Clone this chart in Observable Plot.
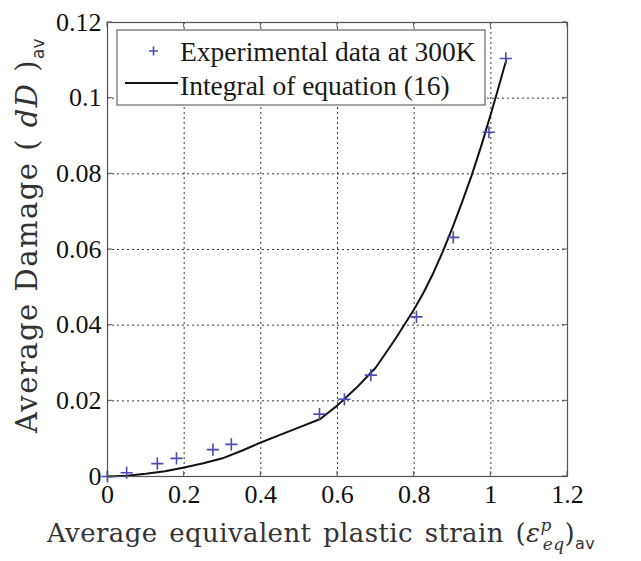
<!DOCTYPE html>
<html>
<head>
<meta charset="utf-8">
<script src="https://cdn.jsdelivr.net/npm/d3@7"></script>
<script src="https://cdn.jsdelivr.net/npm/@observablehq/plot@0.6"></script>
<style>
  html, body { margin: 0; padding: 0; background: #fff; }
  #chart svg { display: block; }
</style>
</head>
<body>
<div id="chart"></div>
<script>
// Experimental damage measurements at 300K
const expStrain = [0, 0.05, 0.13, 0.18, 0.275, 0.323, 0.553, 0.618, 0.687, 0.806, 0.902, 0.995, 1.039];
const expDamage = [0, 0.001, 0.0034, 0.0048, 0.0071, 0.0085, 0.0165, 0.0204, 0.0268, 0.0422, 0.0632, 0.0910, 0.1105];

// Integrated damage evolution law, equation (16)
const fitStrain = [0, 0.05, 0.1, 0.15, 0.2, 0.25, 0.3, 0.35, 0.4, 0.45, 0.5, 0.555, 0.6, 0.65, 0.7, 0.75, 0.8, 0.825, 0.85, 0.875, 0.9, 0.925, 0.95, 0.975, 1.0, 1.02, 1.04];
const fitDamage = [0, 0.0002, 0.0007, 0.0014, 0.0024, 0.0035, 0.0048, 0.0068, 0.009, 0.011, 0.013, 0.0152, 0.0188, 0.0235, 0.0288, 0.0362, 0.0442, 0.0487, 0.0538, 0.0595, 0.0658, 0.0725, 0.0796, 0.0874, 0.0958, 0.1028, 0.1100];

const xTicks = [0, 0.2, 0.4, 0.6, 0.8, 1, 1.2];
const yTicks = [0, 0.02, 0.04, 0.06, 0.08, 0.1, 0.12];

const legendLabels = ["Experimental data at 300K", "Integral of equation (16)"];

const experiments = expStrain.map((x, i) => ({x, y: expDamage[i]}));
const fit = fitStrain.map((x, i) => ({x, y: fitDamage[i]}));

const markColor = "#4b4bb4";
const gridStyle = {stroke: "#222", strokeOpacity: 0.9, strokeDasharray: "2,3", strokeWidth: 1};

const plot = Plot.plot({
  width: 641,
  height: 561,
  marginLeft: 107,
  marginRight: 74,
  marginTop: 22,
  marginBottom: 85,
  style: {fontFamily: "'Liberation Serif', serif", fontSize: "26px", color: "#111", background: "#fff"},
  x: {domain: [0, 1.2]},
  y: {domain: [0, 0.12]},
  marks: [
    Plot.gridX(xTicks, gridStyle),
    Plot.gridY(yTicks, gridStyle),
    Plot.axisX(xTicks, {tickSize: 0, tickPadding: 8, tickFormat: d => String(d), label: null}),
    Plot.axisY(yTicks, {tickSize: 0, tickPadding: 6, tickFormat: d => String(d), label: null}),
    Plot.line(fit, {x: "x", y: "y", stroke: "#111", strokeWidth: 2}),
    Plot.dot(experiments, {x: "x", y: "y", symbol: "plus", r: 4, stroke: markColor, strokeWidth: 1.6}),
    Plot.frame({stroke: "#555", strokeWidth: 1.2})
  ]
});

document.getElementById("chart").appendChild(plot);

const svg = d3.select(plot);
const sx = plot.scale("x"), sy = plot.scale("y");
const [x0, x1] = sx.range, [y0, y1] = sy.range;

// Inward tick marks on all four sides
const tickLen = 5;
const ticks = svg.append("g").attr("stroke", "#555").attr("stroke-width", 1);
for (const t of xTicks) {
  const px = sx.apply(t);
  ticks.append("line").attr("x1", px).attr("x2", px).attr("y1", y0).attr("y2", y0 - tickLen);
  ticks.append("line").attr("x1", px).attr("x2", px).attr("y1", y1).attr("y2", y1 + tickLen);
}
for (const t of yTicks) {
  const py = sy.apply(t);
  ticks.append("line").attr("y1", py).attr("y2", py).attr("x1", x0).attr("x2", x0 + tickLen);
  ticks.append("line").attr("y1", py).attr("y2", py).attr("x1", x1).attr("x2", x1 - tickLen);
}

// Legend box
const lg = svg.append("g").attr("font-family", "'Liberation Serif', serif").attr("font-size", 27.5)
  .attr("fill", "#1a1a1a").attr("text-anchor", "start");
lg.append("rect").attr("x", 117).attr("y", 30).attr("width", 368).attr("height", 75)
  .attr("fill", "#fff").attr("stroke", "#666").attr("stroke-width", 1.2);
lg.append("path").attr("d", "M149,51h9M153.5,46.5v9").attr("stroke", markColor).attr("stroke-width", 1.6);
lg.append("line").attr("x1", 125).attr("x2", 178).attr("y1", 83).attr("y2", 83).attr("stroke", "#111").attr("stroke-width", 2);
lg.append("text").attr("x", 180).attr("y", 61).text(legendLabels[0]);
lg.append("text").attr("x", 180).attr("y", 95).text(legendLabels[1]);

// Axis titles
const xt = svg.append("text").attr("x", 47).attr("y", 542).attr("text-anchor", "start")
  .attr("font-family", "'DejaVu Serif', serif").attr("font-size", 26).attr("letter-spacing", 0.4)
  .attr("word-spacing", 3).attr("fill", "#333");
xt.append("tspan").text("Average equivalent plastic strain (");
xt.append("tspan").attr("font-style", "italic").text("ε");
xt.append("tspan").attr("font-style", "italic").attr("font-size", 17).attr("dy", -11).text("p");
xt.append("tspan").attr("font-style", "italic").attr("font-size", 17).attr("dx", -9).attr("dy", 19).text("eq");
xt.append("tspan").attr("dy", -8).text(")");
xt.append("tspan").attr("font-family", "'DejaVu Sans', sans-serif").attr("font-size", 16).attr("dy", 7).text("av");

const yt = svg.append("text").attr("transform", "translate(37,433) rotate(-90)").attr("text-anchor", "start")
  .attr("font-family", "'DejaVu Serif', serif").attr("font-size", 29).attr("letter-spacing", 1.5).attr("fill", "#333");
yt.append("tspan").text("Average Damage ( ");
yt.append("tspan").attr("font-style", "italic").text("dD");
yt.append("tspan").text(" )");
yt.append("tspan").attr("font-family", "'DejaVu Sans', sans-serif").attr("font-size", 17).attr("letter-spacing", 0).attr("dy", 7).text("av");
</script>
</body>
</html>
